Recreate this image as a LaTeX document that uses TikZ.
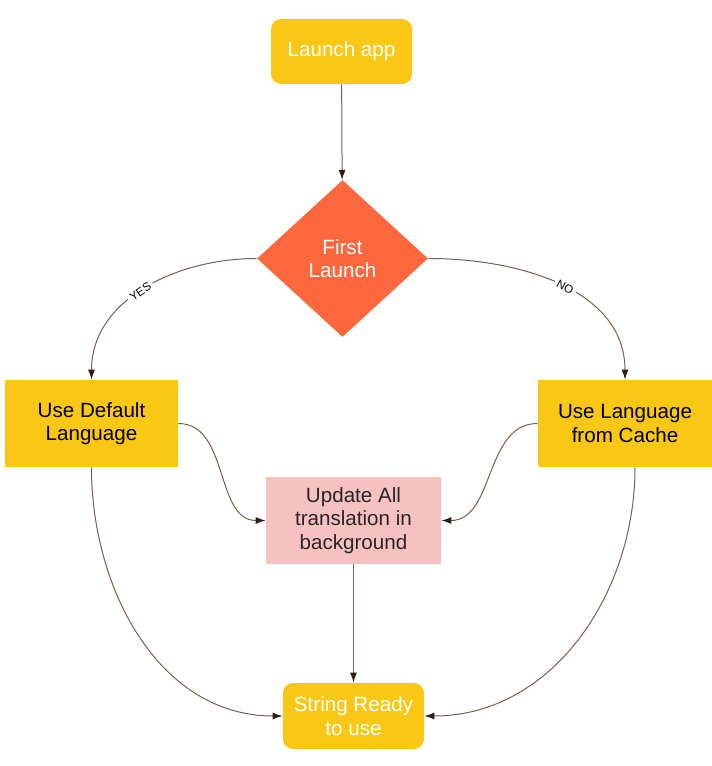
\documentclass[tikz,border=0pt]{standalone}
\usepackage{fontspec}
\setmainfont{Liberation Sans}
\usetikzlibrary{shapes.geometric,arrows.meta}
\definecolor{boxyellow}{HTML}{F9C714}
\definecolor{diaorange}{HTML}{FD673D}
\definecolor{boxpink}{HTML}{F8C1C1}
\definecolor{linebrown}{HTML}{76604F}
\definecolor{tipbrown}{HTML}{2E1F16}

\begin{document}
\begin{tikzpicture}[x=0.5pt,y=-0.5pt]
\useasboundingbox (0,0) rectangle (712,766);
\begin{scope}[every node/.style={align=center,inner sep=0pt,
    font=\fontsize{10.3}{11.7}\selectfont}]
    \node[fill=boxyellow,rounded corners=5pt,text=white,
        minimum width=70.5pt,minimum height=32.5pt] (L) at (341.5,51.5) {Launch app};
    \node[diamond,fill=diaorange,text=white,
        minimum width=85.5pt,minimum height=78.5pt] (F) at (342.5,258.5) {First\\Launch};
    \node[fill=boxyellow,text=black,
        minimum width=86.5pt,minimum height=43.5pt] (D) at (91.5,423.5) {Use Default\\Language};
    \node[fill=boxyellow,text=black,
        minimum width=87pt,minimum height=43.5pt] (C) at (625,423.5) {Use Language\\from Cache};
    \node[fill=boxpink,text=black!85,
        minimum width=87.5pt,minimum height=43.5pt] (U) at (353.5,520.5) {Update All\\translation in\\background};
    \node[fill=boxyellow,rounded corners=5pt,text=white,
        minimum width=70.5pt,minimum height=33pt] (S) at (353.5,716) {String Ready\\to use};
\end{scope}
\begin{scope}[
    every node/.style={fill=white,inner sep=1.5pt,sloped,
        font=\fontsize{5.8}{7}\selectfont},
    every edge/.style={draw=linebrown,line width=0.5pt,
        -{Latex[length=5pt,width=3.5pt,color=tipbrown]}}]
    \path (L) edge (F);
    \path (F.west) edge[out=180,in=90] node[pos=0.52] {YES} (D.north);
    \path (F.east) edge[out=0,in=90] node[pos=0.52] {NO} (C.north);
    \path (D.east) edge[out=0,in=180] (U.west);
    \path (C.west) edge[out=180,in=0] (U.east);
    \path (U) edge (S);
    \path (D.south) edge[out=-90,in=180] (S.west);
    \path ([xshift=5pt]C.south) edge[out=-90,in=0] (S.east);
\end{scope}
\end{tikzpicture}
\end{document}
